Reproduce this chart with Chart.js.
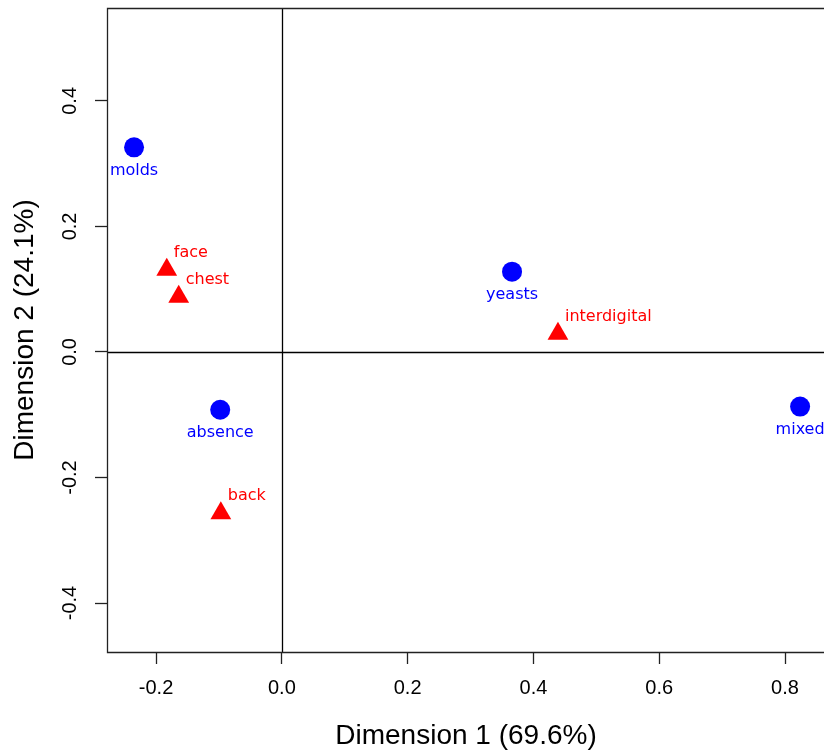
<!DOCTYPE html>
<html lang="en">
<head>
    <meta charset="UTF-8">
    <title>Correspondence analysis</title>
    <script src="https://cdn.jsdelivr.net/npm/chart.js"></script>
    <style>
        body { margin: 0; padding: 0; background: #ffffff; }
        #wrap { width: 824px; height: 751px; }
    </style>
</head>
<body>
    <div id="wrap"><canvas id="caChart" width="824" height="751"></canvas></div>

    <script>
        // column categories (blue dots)
        const colNames = ['molds', 'yeasts', 'absence', 'mixed'];
        const colDim1 = [-0.235, 0.366, -0.098, 0.824];
        const colDim2 = [0.326, 0.128, -0.092, -0.087];

        // row categories (red triangles)
        const rowNames = ['face', 'chest', 'interdigital', 'back'];
        const rowDim1 = [-0.183, -0.164, 0.439, -0.097];
        const rowDim2 = [0.131, 0.088, 0.029, -0.257];

        // axes
        const xTicks = [-0.2, 0.0, 0.2, 0.4, 0.6, 0.8];
        const yTicks = [-0.4, -0.2, 0.0, 0.2, 0.4];
        const xRange = [-0.278, 0.862];
        const yRange = [-0.478, 0.548];
        const xTitle = 'Dimension 1 (69.6%)';
        const yTitle = 'Dimension 2 (24.1%)';

        const blue = '#0000ff';
        const red = '#ff0000';

        function noPad(s) {
            s.paddingLeft = 0; s.paddingRight = 0;
            s.paddingTop = 0; s.paddingBottom = 0;
        }

        // draw the box, the zero lines, tick labels, titles and point labels
        const rPlotStuff = {
            id: 'rPlotStuff',
            beforeDatasetsDraw(chart) {
                const ctx = chart.ctx;
                const a = chart.chartArea;
                const xs = chart.scales.x, ys = chart.scales.y;
                ctx.save();
                ctx.strokeStyle = '#000';
                ctx.lineWidth = 1.3;
                const x0 = Math.round(xs.getPixelForValue(0)) + 0.5;
                const y0 = Math.round(ys.getPixelForValue(0)) + 0.5;
                ctx.beginPath();
                ctx.moveTo(x0, a.top); ctx.lineTo(x0, a.bottom);
                ctx.moveTo(a.left, y0); ctx.lineTo(a.right, y0);
                ctx.stroke();
                // box (left, top, bottom)
                ctx.strokeStyle = '#222';
                ctx.beginPath();
                ctx.moveTo(a.right, a.top + 0.5);
                ctx.lineTo(a.left + 0.5, a.top + 0.5);
                ctx.lineTo(a.left + 0.5, a.bottom + 0.5);
                ctx.lineTo(a.right, a.bottom + 0.5);
                ctx.stroke();
                ctx.restore();
            },
            afterDatasetsDraw(chart) {
                const ctx = chart.ctx;
                const a = chart.chartArea;
                const xs = chart.scales.x, ys = chart.scales.y;
                ctx.save();
                ctx.fillStyle = '#000';
                ctx.font = '20px "Liberation Sans", Arial, sans-serif';
                ctx.textAlign = 'center';
                ctx.textBaseline = 'middle';
                xTicks.forEach(v => {
                    ctx.fillText(v.toFixed(1), xs.getPixelForValue(v), 688);
                });
                yTicks.forEach(v => {
                    ctx.save();
                    ctx.translate(70, ys.getPixelForValue(v));
                    ctx.rotate(-Math.PI / 2);
                    ctx.fillText(v.toFixed(1), 0, 0);
                    ctx.restore();
                });
                ctx.font = '28px "Liberation Sans", Arial, sans-serif';
                ctx.fillText(xTitle, 466, 736);
                ctx.save();
                ctx.translate(25, (a.top + a.bottom) / 2);
                ctx.rotate(-Math.PI / 2);
                ctx.fillText(yTitle, 0, 0);
                ctx.restore();

                // point labels
                ctx.font = '16px "DejaVu Sans", sans-serif';
                ctx.fillStyle = blue;
                colNames.forEach((n, i) => {
                    ctx.fillText(n, xs.getPixelForValue(colDim1[i]), ys.getPixelForValue(colDim2[i]) + 23);
                });
                ctx.fillStyle = red;
                ctx.textAlign = 'left';
                rowNames.forEach((n, i) => {
                    ctx.fillText(n, xs.getPixelForValue(rowDim1[i]) + 7, ys.getPixelForValue(rowDim2[i]) - 17);
                });
                ctx.restore();
            }
        };

        const ctx = document.getElementById('caChart').getContext('2d');
        new Chart(ctx, {
            type: 'scatter',
            data: {
                datasets: [
                    {
                        label: 'columns',
                        data: colNames.map((n, i) => ({ x: colDim1[i], y: colDim2[i] })),
                        pointStyle: 'circle',
                        pointRadius: 10,
                        backgroundColor: blue,
                        borderWidth: 0
                    },
                    {
                        label: 'rows',
                        data: rowNames.map((n, i) => ({ x: rowDim1[i], y: rowDim2[i] })),
                        pointStyle: 'triangle',
                        pointRadius: 12,
                        backgroundColor: red,
                        borderWidth: 0
                    }
                ]
            },
            options: {
                responsive: false,
                animation: false,
                layout: { autoPadding: false, padding: { top: 8, right: 0, bottom: 0, left: 0 } },
                plugins: {
                    legend: { display: false },
                    tooltip: { enabled: false }
                },
                scales: {
                    x: {
                        type: 'linear',
                        min: xRange[0],
                        max: xRange[1],
                        afterBuildTicks: s => { s.ticks = xTicks.map(v => ({ value: v })); },
                        afterFit: s => { s.height = 99; noPad(s); },
                        ticks: { display: false },
                        border: { display: false },
                        grid: {
                            drawOnChartArea: false,
                            drawTicks: true,
                            tickLength: 12,
                            tickWidth: 1.3,
                            tickColor: '#222',
                            color: 'rgba(0,0,0,0)'
                        }
                    },
                    y: {
                        type: 'linear',
                        min: yRange[0],
                        max: yRange[1],
                        afterBuildTicks: s => { s.ticks = yTicks.map(v => ({ value: v })); },
                        afterFit: s => { s.width = 107; noPad(s); },
                        ticks: { display: false },
                        border: { display: false },
                        grid: {
                            drawOnChartArea: false,
                            drawTicks: true,
                            tickLength: 12,
                            tickWidth: 1.3,
                            tickColor: '#222',
                            color: 'rgba(0,0,0,0)'
                        }
                    }
                }
            },
            plugins: [rPlotStuff]
        });
    </script>
</body>
</html>
